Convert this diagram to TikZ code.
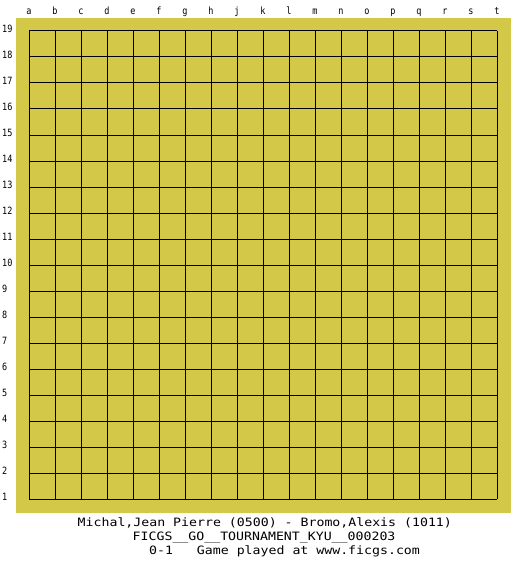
\documentclass[tikz,border=0pt]{standalone}
\usepackage{fontspec}
\newfontfamily\boardmono[FakeStretch=1.15]{DejaVu Sans Mono}
\newfontfamily\labelmono[FakeStretch=0.85]{DejaVu Sans Mono}
\definecolor{boardyellow}{RGB}{212,200,72}
\tikzset{
  gridline/.style={draw=black,line width=1pt},
  collabel/.style={anchor=base,inner sep=0pt,font=\labelmono\fontsize{10}{12}\selectfont},
  rowlabel/.style={anchor=base west,inner sep=0pt,font=\labelmono\fontsize{10}{12}\selectfont},
  infoline/.style={anchor=base west,inner sep=0pt,font=\boardmono\fontsize{11.5}{14}\selectfont}
}
\begin{document}
\begin{tikzpicture}[x=1pt,y=-1pt]
\useasboundingbox[fill=white] (0,0) rectangle (525,575);
\fill[boardyellow] (16,18) rectangle (511,513);
\foreach \i in {0,...,18}{
  \draw[gridline] (29+26*\i,31) -- (29+26*\i,499);
  \draw[gridline] (29,31+26*\i) -- (497,31+26*\i);
}
\foreach \l [count=\i from 0] in {a,b,c,d,e,f,g,h,j,k,l,m,n,o,p,q,r,s,t}
  \node[collabel] (col\l) at (29+26*\i,14.5) {\l};
\foreach \n in {1,...,19}
  \node[rowlabel] (row\n) at (2,31+26*19-26*\n+1.5) {\n};
\node[infoline] (players) at (77.5,526) {Michal,Jean Pierre (0500) - Bromo,Alexis (1011)};
\node[infoline] (event) at (132.5,540) {FICGS\_\_GO\_\_TOURNAMENT\_KYU\_\_000203};
\node[infoline] (result) at (149,554) {0-1\ \ \ Game played at www.ficgs.com};
\end{tikzpicture}
\end{document}
